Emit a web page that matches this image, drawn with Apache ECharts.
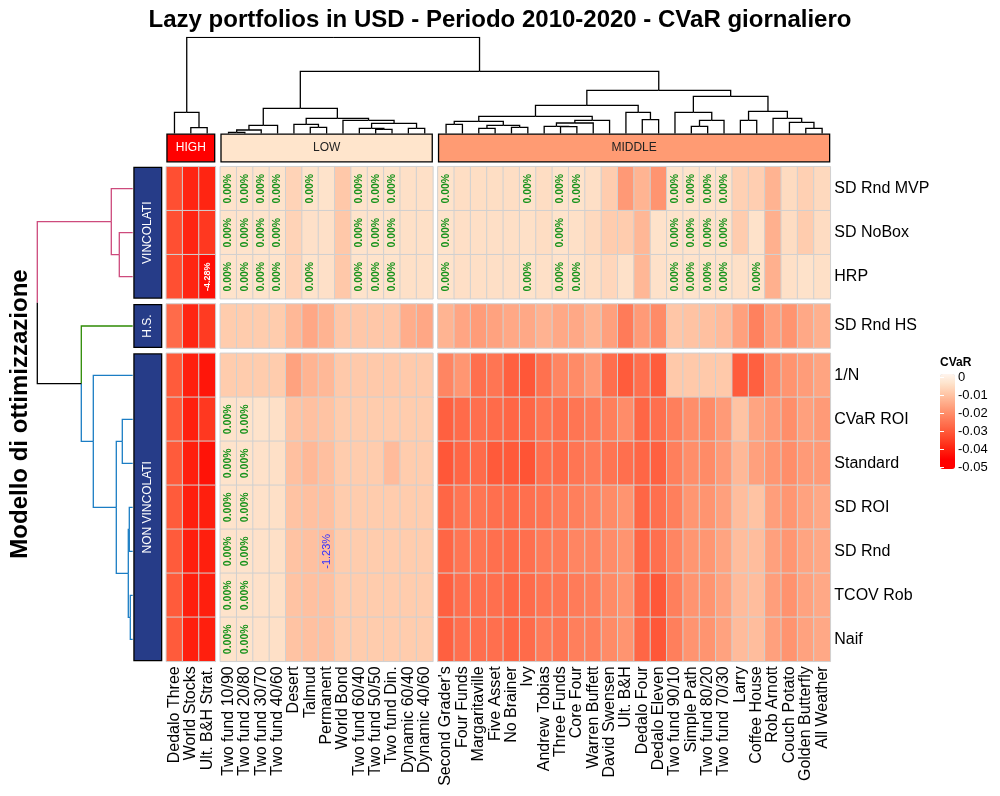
<!DOCTYPE html>
<html><head><meta charset="utf-8">
<script src="https://cdn.jsdelivr.net/npm/echarts@6/dist/echarts.min.js"></script>
<style>html,body{margin:0;padding:0;background:#fff}#chart{width:1000px;height:796px}</style>
</head><body><div id="chart"></div>
<script>
// ---------------- DATA ----------------
const chartTitle = "Lazy portfolios in USD - Periodo 2010-2020 - CVaR giornaliero";
const rowAxisTitle = "Modello di ottimizzazione";
const legendTitle = "CVaR";

const highCols = ["Dedalo Three","World Stocks","Ult. B&H Strat."];
const lowCols = ["Two fund 10/90","Two fund 20/80","Two fund 30/70","Two fund 40/60","Desert","Talmud","Permanent","World Bond","Two fund 60/40","Two fund 50/50","Two fund Din.","Dynamic 60/40","Dynamic 40/60"];
const midCols = ["Second Grader's","Four Funds","Margaritaville","Five Asset","No Brainer","Ivy","Andrew Tobias","Three Funds","Core Four","Warren Buffett","David Swensen","Ult. B&H","Dedalo Four","Dedalo Eleven","Two fund 90/10","Simple Path","Two fund 80/20","Two fund 70/30","Larry","Coffee House","Rob Arnott","Couch Potato","Golden Butterfly","All Weather"];
const colGroupNames = ["HIGH","LOW","MIDDLE"];

const vincRows = ["SD Rnd MVP","SD NoBox","HRP"];
const hsRows = ["SD Rnd HS"];
const nvRows = ["1/N","CVaR ROI","Standard","SD ROI","SD Rnd","TCOV Rob","Naif"];
const rowGroupNames = ["VINCOLATI","H.S.","NON VINCOLATI"];

// CVaR per row: HIGH(3) | LOW(13) | MIDDLE(24)
const cvarSdRndMvp = [-0.032,-0.039,-0.039, -0.005,-0.005,-0.005,-0.005,-0.008,-0.005,-0.005,-0.0102,-0.005,-0.005,-0.005,-0.0056,-0.0056,
  -0.005,-0.006,-0.006,-0.006,-0.006,-0.005,-0.0062,-0.005,-0.005,-0.0058,-0.0094,-0.0185,-0.0138,-0.0195,-0.005,-0.005,-0.005,-0.005,-0.0087,-0.009,-0.014,-0.0066,-0.0087,-0.0069];
const cvarSdNoBox = [-0.032,-0.039,-0.036, -0.005,-0.005,-0.005,-0.005,-0.008,-0.0055,-0.0055,-0.0102,-0.005,-0.005,-0.005,-0.0056,-0.0056,
  -0.005,-0.0058,-0.0058,-0.0058,-0.0058,-0.0056,-0.0062,-0.005,-0.0056,-0.0069,-0.0094,-0.0094,-0.0132,-0.0052,-0.005,-0.005,-0.005,-0.005,-0.0094,-0.0052,-0.0145,-0.0063,-0.0094,-0.0063];
const cvarHrp = [-0.032,-0.039,-0.0428, -0.005,-0.005,-0.005,-0.005,-0.008,-0.005,-0.0055,-0.0102,-0.005,-0.005,-0.005,-0.0056,-0.0056,
  -0.005,-0.0058,-0.0058,-0.0058,-0.0058,-0.005,-0.0056,-0.005,-0.005,-0.0062,-0.0075,-0.0053,-0.0132,-0.0053,-0.005,-0.005,-0.005,-0.005,-0.0056,-0.005,-0.0145,-0.0056,-0.0052,-0.0056];
const cvarSdRndHs = [-0.027,-0.039,-0.0355, -0.0095,-0.0095,-0.0095,-0.0095,-0.013,-0.016,-0.014,-0.0103,-0.0103,-0.0103,-0.0103,-0.015,-0.016,
  -0.0138,-0.0164,-0.018,-0.017,-0.0159,-0.0159,-0.0141,-0.0159,-0.0159,-0.0138,-0.0173,-0.024,-0.0184,-0.0212,-0.0105,-0.0111,-0.0116,-0.0125,-0.0173,-0.023,-0.0173,-0.0195,-0.0159,-0.0145];
const cvar1N = [-0.030,-0.040,-0.0415, -0.0095,-0.0095,-0.0095,-0.0095,-0.017,-0.0138,-0.013,-0.010,-0.010,-0.010,-0.010,-0.0098,-0.0098,
  -0.0223,-0.0191,-0.0263,-0.0252,-0.0291,-0.0307,-0.026,-0.0223,-0.0212,-0.0184,-0.0263,-0.0298,-0.0263,-0.0298,-0.010,-0.010,-0.010,-0.010,-0.0298,-0.0291,-0.0212,-0.0195,-0.018,-0.0166];
const cvarCvarRoi = [-0.030,-0.040,-0.036, -0.005,-0.005,-0.005,-0.0056,-0.0111,-0.0116,-0.0111,-0.0095,-0.0095,-0.0095,-0.0095,-0.0095,-0.0095,
  -0.0291,-0.027,-0.0263,-0.027,-0.028,-0.028,-0.0252,-0.0263,-0.0252,-0.0241,-0.0234,-0.0209,-0.028,-0.0263,-0.0234,-0.0205,-0.0212,-0.0184,-0.0111,-0.0166,-0.0184,-0.0205,-0.0173,-0.0184];
const cvarStandard = [-0.030,-0.040,-0.042, -0.005,-0.005,-0.0053,-0.0056,-0.0116,-0.013,-0.0118,-0.0095,-0.0095,-0.0095,-0.0125,-0.0095,-0.0095,
  -0.0307,-0.028,-0.027,-0.0302,-0.0302,-0.0312,-0.0263,-0.027,-0.0252,-0.0241,-0.0252,-0.0263,-0.028,-0.0291,-0.0234,-0.0205,-0.0212,-0.0184,-0.013,-0.0173,-0.0191,-0.0205,-0.0184,-0.0184];
const cvarSdRoi = [-0.030,-0.040,-0.040, -0.005,-0.005,-0.0053,-0.0056,-0.0111,-0.0116,-0.0116,-0.0095,-0.0095,-0.0095,-0.0095,-0.0095,-0.0095,
  -0.028,-0.0252,-0.0252,-0.0263,-0.027,-0.0263,-0.0252,-0.0241,-0.0234,-0.0223,-0.0212,-0.0195,-0.028,-0.0263,-0.0234,-0.0191,-0.0195,-0.0173,-0.0121,-0.0111,-0.0177,-0.0191,-0.017,-0.0159];
const cvarSdRnd = [-0.030,-0.040,-0.040, -0.005,-0.005,-0.0053,-0.0056,-0.0111,-0.0116,-0.0123,-0.0095,-0.0095,-0.0095,-0.0095,-0.0095,-0.0095,
  -0.028,-0.0252,-0.0252,-0.0263,-0.027,-0.0263,-0.0241,-0.0241,-0.0223,-0.0223,-0.0209,-0.0195,-0.028,-0.0263,-0.0223,-0.0191,-0.0191,-0.0166,-0.0121,-0.0121,-0.0173,-0.0191,-0.0166,-0.0159];
const cvarTcovRob = [-0.030,-0.040,-0.040, -0.005,-0.005,-0.0053,-0.0056,-0.0111,-0.0116,-0.0116,-0.0095,-0.0095,-0.0095,-0.0095,-0.0095,-0.0095,
  -0.0291,-0.0263,-0.0263,-0.0263,-0.028,-0.027,-0.0252,-0.0252,-0.0241,-0.0234,-0.0212,-0.0195,-0.028,-0.0307,-0.0234,-0.0195,-0.0195,-0.017,-0.0125,-0.0121,-0.0177,-0.0198,-0.017,-0.0159];
const cvarNaif = [-0.030,-0.040,-0.040, -0.005,-0.005,-0.0053,-0.0056,-0.0111,-0.0116,-0.0116,-0.0095,-0.0095,-0.0095,-0.0095,-0.0095,-0.0095,
  -0.0291,-0.0263,-0.0263,-0.0263,-0.028,-0.027,-0.0241,-0.0252,-0.0234,-0.0234,-0.0212,-0.0195,-0.028,-0.0307,-0.0234,-0.0195,-0.0195,-0.017,-0.0125,-0.0121,-0.0173,-0.0195,-0.017,-0.0159];

// cells annotated with a zero weight
const zeroText = "0.00%";
const zeroSdRndMvp = ["Two fund 10/90","Two fund 20/80","Two fund 30/70","Two fund 40/60","Talmud","Two fund 60/40","Two fund 50/50","Two fund Din.","Second Grader's","Ivy","Three Funds","Core Four","Two fund 90/10","Simple Path","Two fund 80/20","Two fund 70/30"];
const zeroSdNoBox = ["Two fund 10/90","Two fund 20/80","Two fund 30/70","Two fund 40/60","Two fund 60/40","Two fund 50/50","Two fund Din.","Second Grader's","Three Funds","Two fund 90/10","Simple Path","Two fund 80/20","Two fund 70/30"];
const zeroHrp = ["Two fund 10/90","Two fund 20/80","Two fund 30/70","Two fund 40/60","Talmud","Two fund 60/40","Two fund 50/50","Two fund Din.","Second Grader's","Ivy","Three Funds","Core Four","Two fund 90/10","Simple Path","Two fund 80/20","Two fund 70/30","Coffee House"];
const zeroUnconstrained = ["Two fund 10/90","Two fund 20/80"];
// cells annotated with their own CVaR value
const valueLabelCells = [["HRP","Ult. B&H Strat."],["SD Rnd","Permanent"]];

// dendrograms: [height, left, right]
const colTree = [96.2,
  [21.2, "Dedalo Three", [5.8, "World Stocks", "Ult. B&H Strat."]],
  [62.2,
    [25.2,
      [8.2, [3.5, [1.2, "Two fund 10/90", "Two fund 20/80"], "Two fund 30/70"], "Two fund 40/60"],
      [15.2, [9.2, "Desert", [6.2, "Talmud", "Permanent"]],
             [13.2, "World Bond", [10.2, [5.2, "Two fund 60/40", [4.2, "Two fund 50/50", "Two fund Din."]], [5.2, "Dynamic 60/40", "Dynamic 40/60"]]]]],
    [43.2,
      [28.2,
        [17.2,
          [12.2, [9.2, "Second Grader's", "Four Funds"], [8.2, [5.2, "Margaritaville", "Five Asset"], [6.2, "No Brainer", "Ivy"]]],
          [13.2, [10.5, [7.2, "Andrew Tobias", [6.8, "Three Funds", "Core Four"]], "Warren Buffett"], "David Swensen"]],
        [21.2, "Ult. B&H", [13.8, "Dedalo Four", "Dedalo Eleven"]]],
      [37.2,
        [21.2, "Two fund 90/10", [13.2, [7.2, "Simple Path", "Two fund 80/20"], "Two fund 70/30"]],
        [22.2, [13.2, "Larry", "Coffee House"], [15.2, "Rob Arnott", [11.2, "Couch Potato", [5.2, "Golden Butterfly", "All Weather"]]]]]]]];
const rowTree = [95.4,
  [21.4, "SD Rnd MVP", [13.4, "SD NoBox", "HRP"]],
  [51.4, "SD Rnd HS", [39.4, "1/N", [16.4, [10.4, "CVaR ROI", "Standard"], [4.4, [3.4, "SD ROI", "SD Rnd"], [2.4, "TCOV Rob", "Naif"]]]]]];

// ---------------- STYLE / LAYOUT ----------------
const FONT = "'Liberation Sans', Arial, sans-serif";
const palette = ['#FF0000','#FF0000','#FF1F0E','#FF3E24','#FF5B3B','#FF7654','#FF916D','#FFAD8B','#FFC9AA','#FEE3CB','#FFF5EE'];
const colGroupColors = ['#FF0000','#FFE5CC','#FF9B73'];
const colGroupTextColors = ['#FFFFFF','#222222','#222222'];
const rowGroupColor = '#263C88';
const rowClusterColors = ['#CD4A7C','#2E8B05','#1B7DC4'];
const valueLabelStyles = [{color:'#FFFFFF', fontWeight:'bold', fontSize:9},{color:'#3030FF', fontWeight:'normal', fontSize:11}];
const CW = 16.35, RH = 44, CGAP = 5, RGAP = 5.3, X0 = 166.3, Y0 = 166.7;

const rowValues = {"SD Rnd MVP":cvarSdRndMvp,"SD NoBox":cvarSdNoBox,"HRP":cvarHrp,"SD Rnd HS":cvarSdRndHs,"1/N":cvar1N,
  "CVaR ROI":cvarCvarRoi,"Standard":cvarStandard,"SD ROI":cvarSdRoi,"SD Rnd":cvarSdRnd,"TCOV Rob":cvarTcovRob,"Naif":cvarNaif};
const rowZeros = {"SD Rnd MVP":zeroSdRndMvp,"SD NoBox":zeroSdNoBox,"HRP":zeroHrp,"CVaR ROI":zeroUnconstrained,"Standard":zeroUnconstrained,
  "SD ROI":zeroUnconstrained,"SD Rnd":zeroUnconstrained,"TCOV Rob":zeroUnconstrained,"Naif":zeroUnconstrained};

const colGroups = [highCols, lowCols, midCols];
const rowGroups = [vincRows, hsRows, nvRows];

const colLeft = [], colIdx0 = [], colStartU = [];
{ let x = X0, n = 0; colGroups.forEach((g,c) => { colLeft.push(x); colIdx0.push(n); colStartU.push(n + c*CGAP/CW); x += g.length*CW + CGAP; n += g.length; }); }
const rowTop = [], rowStartU = [];
{ let y = Y0, n = 0; rowGroups.forEach((g,r) => { rowTop.push(y); rowStartU.push(n + r*RGAP/RH); y += g.length*RH + RGAP; n += g.length; }); }
const totalW = colLeft[2] + midCols.length*CW - X0;
const totalH = rowTop[2] + nvRows.length*RH - Y0;
const totalColU = colStartU[2] + midCols.length;
const totalRowU = rowStartU[2] + nvRows.length;

const colPos = {}, rowPos = {}, rowCluster = {};
colGroups.forEach((g,c) => g.forEach((n,j) => colPos[n] = colStartU[c] + j + 0.5));
rowGroups.forEach((g,r) => g.forEach((n,i) => { rowPos[n] = rowStartU[r] + i + 0.5; rowCluster[n] = r; }));

const grids = [], xAxes = [], yAxes = [], series = [];
function addGrid(g, xa, ya) {
  g.containLabel = false; g.outerBoundsMode = 'none';
  grids.push(g); const i = grids.length - 1;
  xa.gridIndex = i; ya.gridIndex = i; xAxes.push(xa); yAxes.push(ya); return i;
}
const noAxis = {axisLine:{show:false}, axisTick:{show:false}, splitLine:{show:false}};

// heatmap blocks
rowGroups.forEach((rows, r) => {
  colGroups.forEach((cols, c) => {
    const gi = addGrid({left: colLeft[c], top: rowTop[r], width: cols.length*CW, height: rows.length*RH},
      Object.assign({type:'category', data: cols, axisLabel:{show: r === 2, rotate: 90, interval: 0, margin: 5, fontSize: 16, color: '#000', fontFamily: FONT}}, noAxis),
      Object.assign({type:'category', data: rows, inverse: true, position: 'right', axisLabel:{show: c === 2, interval: 0, margin: 4, fontSize: 16, color: '#000', fontFamily: FONT}}, noAxis));
    const data = [];
    rows.forEach((rn, i) => {
      const vals = rowValues[rn], zeros = rowZeros[rn] || [];
      cols.forEach((cn, j) => {
        const v = vals[colIdx0[c] + j];
        const item = {value: [j, i, v]};
        const sp = valueLabelCells.findIndex(p => p[0] === rn && p[1] === cn);
        if (sp >= 0) {
          item.label = Object.assign({show: true, rotate: 90, formatter: (v*100).toFixed(2) + '%', fontFamily: FONT}, valueLabelStyles[sp]);
        } else if (zeros.indexOf(cn) >= 0) {
          item.label = {show: true, rotate: 90, formatter: zeroText, color: '#16921A', fontWeight: 'bold', fontSize: 10.5, fontFamily: FONT};
        }
        data.push(item);
      });
    });
    series.push({type: 'heatmap', xAxisIndex: gi, yAxisIndex: gi, data, label: {show: false},
      itemStyle: {borderColor: '#D0D0D0', borderWidth: 1}, emphasis: {disabled: true}, silent: true});
  });
});
const heatSeriesIdx = series.map((s, i) => i);

// top annotation
colGroupNames.forEach((name, c) => {
  const gi = addGrid({left: colLeft[c], top: 133.5, width: colGroups[c].length*CW, height: 29},
    {type:'category', data:[name], show:false}, {type:'value', min:0, max:1, show:false});
  series.push({type:'bar', xAxisIndex:gi, yAxisIndex:gi, data:[1], barWidth:'100%', silent:true,
    itemStyle:{color: colGroupColors[c], borderColor:'#000', borderWidth:1.3},
    label:{show:true, position:'inside', formatter: name, color: colGroupTextColors[c], fontSize:12, fontFamily: FONT}});
});
// left annotation
rowGroupNames.forEach((name, r) => {
  const gi = addGrid({left: 133.3, top: rowTop[r], width: 29, height: rowGroups[r].length*RH},
    {type:'value', min:0, max:1, show:false}, {type:'category', data:[name], show:false});
  series.push({type:'bar', xAxisIndex:gi, yAxisIndex:gi, data:[1], barWidth:'100%', silent:true,
    itemStyle:{color: rowGroupColor, borderColor:'#000', borderWidth:1.3},
    label:{show:true, position:'inside', rotate:90, formatter: name, color:'#fff', fontSize:12, fontFamily: FONT}});
});

// dendrogram segments
function buildTree(node, posOf, clusterOf, out) {
  if (typeof node === 'string') return {pos: posOf[node], h: 0, cl: clusterOf ? clusterOf[node] : -1};
  const a = buildTree(node[1], posOf, clusterOf, out), b = buildTree(node[2], posOf, clusterOf, out);
  const pos = (a.pos + b.pos) / 2, h = node[0];
  [a, b].forEach(ch => out.push({child: ch, h, pos}));
  return {pos, h, cl: (a.cl === b.cl) ? a.cl : -1};
}
const colSegs = []; buildTree(colTree, colPos, null, colSegs);
const rowSegs = []; buildTree(rowTree, rowPos, rowCluster, rowSegs);

let gi = addGrid({left: X0, top: 37.3, width: totalW, height: 133.5 - 37.3},
  {type:'value', min:0, max: totalColU, show:false}, {type:'value', min:0, max: colTree[0], show:false});
series.push({type:'lines', coordinateSystem:'cartesian2d', xAxisIndex:gi, yAxisIndex:gi, polyline:true, silent:true,
  lineStyle:{color:'#000', width:1.3, opacity:1},
  data: colSegs.map(s => ({coords: [[s.child.pos, s.child.h], [s.child.pos, s.h], [s.pos, s.h]]}))});

gi = addGrid({left: 37.3, top: Y0, width: 132.7 - 37.3, height: totalH},
  {type:'value', min:0, max: rowTree[0], inverse:true, show:false},
  Object.assign({type:'value', min:0, max: totalRowU, inverse:true, position:'left', axisLabel:{show:false},
    name: rowAxisTitle, nameLocation:'middle', nameRotate:90, nameGap:5,
    nameTextStyle:{fontSize:24, fontWeight:'bold', color:'#000', fontFamily: FONT}}, noAxis));
series.push({type:'lines', coordinateSystem:'cartesian2d', xAxisIndex:gi, yAxisIndex:gi, polyline:true, silent:true,
  lineStyle:{width:1.3, opacity:1},
  data: rowSegs.map(s => ({coords: [[s.child.h, s.child.pos], [s.h, s.child.pos], [s.h, s.pos]],
    lineStyle:{color: s.child.cl >= 0 ? rowClusterColors[s.child.cl] : '#000'}}))});

// legend axis
gi = grids.length;
grids.push({left: 940, top: 377, width: 15, height: 90, containLabel:false, outerBoundsMode:'none'});
xAxes.push({gridIndex: gi, type:'value', show:false});
const tickStyle = {show:true, inside:true, length:4, lineStyle:{color:'#fff', width:1}};
yAxes.push({gridIndex: gi, type:'value', min:-0.05, max:0, interval:0.01, position:'right', z:10,
  axisLine:{show:false}, splitLine:{show:false}, axisTick: tickStyle,
  axisLabel:{show:true, margin:3, fontSize:13, color:'#000', fontFamily: FONT}});
yAxes.push({gridIndex: gi, type:'value', min:-0.05, max:0, interval:0.01, position:'left', z:10,
  axisLine:{show:false}, splitLine:{show:false}, axisTick: tickStyle, axisLabel:{show:false},
  name: legendTitle, nameLocation:'end', nameGap:8,
  nameTextStyle:{align:'left', verticalAlign:'bottom', fontSize:12, fontWeight:'bold', color:'#000', fontFamily: FONT}});

const option = {
  animation: false,
  backgroundColor: '#fff',
  textStyle: {fontFamily: FONT},
  title: {text: chartTitle, left: 'center', top: 3, textStyle: {fontSize: 24, fontWeight: 'bold', color: '#000', fontFamily: FONT}},
  grid: grids, xAxis: xAxes, yAxis: yAxes,
  visualMap: {type:'continuous', min:-0.05, max:0, seriesIndex: heatSeriesIdx, dimension: 2,
    inRange:{color: palette}, left: 940, top: 374, itemWidth: 15, itemHeight: 95, padding: 0,
    calculable:false, hoverLink:false, show:true, z: 2},
  series
};
const chart = echarts.init(document.getElementById('chart'), null, {renderer:'canvas'});
chart.setOption(option);
</script></body></html>
